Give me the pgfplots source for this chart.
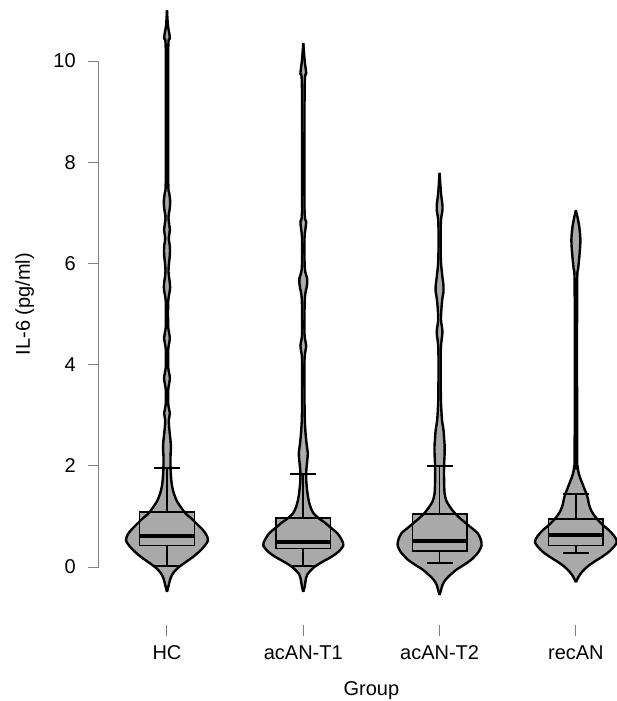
\documentclass[border=0pt]{standalone}
\usepackage{fontspec}
\setmainfont{Liberation Sans}
\usepackage{pgfplots}
\usepackage{pgfplotstable}
\pgfplotsset{compat=1.18}
\usepgfplotslibrary{statistics}
\definecolor{vgray}{HTML}{A9A9A9}

% violin half-widths (data units) against IL-6 value
\pgfplotstableread{
y w
-0.49 0
-0.40 0.009
-0.30 0.018
-0.20 0.029
-0.10 0.051
0.00 0.088
0.10 0.139
0.20 0.191
0.30 0.235
0.40 0.271
0.53 0.301
0.65 0.286
0.75 0.257
0.85 0.220
0.95 0.183
1.05 0.139
1.15 0.110
1.30 0.073
1.45 0.051
1.60 0.037
1.80 0.029
2.00 0.026
2.20 0.026
2.35 0.029
2.50 0.026
2.70 0.018
2.90 0.013
3.04 0.021
3.20 0.010
3.50 0.009
3.73 0.021
3.95 0.009
4.30 0.009
4.53 0.021
4.75 0.009
5.25 0.009
5.53 0.023
5.85 0.011
6.17 0.021
6.33 0.021
6.50 0.013
6.66 0.021
6.90 0.011
7.10 0.021
7.25 0.023
7.40 0.016
7.70 0.009
10.20 0.009
10.45 0.021
10.70 0.007
11.00 0
}\hc

\pgfplotstableread{
y w
-0.49 0
-0.40 0.009
-0.30 0.015
-0.15 0.029
0.00 0.081
0.10 0.139
0.20 0.205
0.30 0.257
0.43 0.294
0.55 0.279
0.67 0.249
0.77 0.205
0.87 0.161
0.97 0.110
1.07 0.073
1.20 0.051
1.35 0.037
1.50 0.029
1.70 0.022
1.90 0.022
2.10 0.029
2.25 0.033
2.40 0.026
2.60 0.018
2.90 0.011
3.30 0.009
4.10 0.009
4.38 0.021
4.60 0.009
5.30 0.011
5.55 0.026
5.70 0.029
5.90 0.011
6.50 0.009
6.82 0.021
7.10 0.009
9.50 0.010
9.75 0.021
10.00 0.010
10.35 0
}\tone

\pgfplotstableread{
y w
-0.55 0
-0.45 0.011
-0.35 0.022
-0.25 0.044
-0.15 0.081
-0.05 0.125
0.05 0.183
0.15 0.235
0.30 0.286
0.43 0.308
0.55 0.301
0.67 0.279
0.77 0.235
0.87 0.191
0.97 0.147
1.07 0.110
1.17 0.081
1.30 0.051
1.45 0.037
1.70 0.033
2.00 0.033
2.25 0.037
2.40 0.037
2.55 0.033
2.70 0.029
2.90 0.018
3.10 0.013
3.40 0.009
4.30 0.009
4.64 0.021
4.90 0.010
5.25 0.018
5.45 0.029
5.55 0.029
5.80 0.018
6.10 0.009
6.80 0.009
7.05 0.021
7.15 0.021
7.40 0.010
7.79 0
}\ttwo

\pgfplotstableread{
y w
-0.30 0
-0.20 0.018
-0.10 0.044
0.00 0.081
0.10 0.132
0.20 0.191
0.30 0.242
0.40 0.279
0.50 0.301
0.62 0.279
0.73 0.242
0.83 0.198
0.93 0.161
1.03 0.132
1.13 0.110
1.25 0.095
1.35 0.088
1.45 0.077
1.55 0.062
1.65 0.048
1.75 0.033
1.86 0.020
2.00 0.012
2.20 0.009
5.50 0.009
5.90 0.017
6.15 0.026
6.45 0.033
6.70 0.026
6.90 0.013
7.05 0
}\rec

\begin{document}
\begin{tikzpicture}
\begin{axis}[
    x=136.3pt, y=50.6pt,
    xmin=0.5, xmax=4.5, ymin=-1.146, ymax=11.54,
    clip=false,
    axis x line*=bottom, axis y line*=left,
    x axis line style={draw=none}, y axis line style={draw=none},
    font=\fontsize{20}{24}\selectfont,
    /pgf/number format/assume math mode=true,
    xtick={1,2,3,4},
    xticklabels={HC,acAN-T1,acAN-T2,recAN},
    ytick={0,2,4,6,8,10},
    tick align=outside,
    major tick length=11pt,
    tick style={black!50, line width=1pt},
    xticklabel style={anchor=base, yshift=-23.5pt},
    yticklabel style={anchor=east, inner sep=0pt, xshift=-12pt},
    xlabel={Group}, ylabel={IL-6 (pg/ml)},
    xlabel style={at={(axis description cs:0.5,-0.1106)}, anchor=base},
    ylabel style={at={(axis description cs:-0.1264,0.5)}, anchor=base},
    vfill/.style={fill=vgray, draw=vgray, line width=0.4pt, mark=none, smooth},
    vedge/.style={draw=black, line width=2.4pt, mark=none, smooth, line join=round},
    boxplot/draw direction=y,
    boxplot/box extend=0.4,
    boxplot/whisker extend=0.19,
    boxplot/every box/.style={fill=vgray, draw=black, line width=1.4pt},
    boxplot/every whisker/.style={draw=black, line width=1.8pt},
    boxplot/every median/.style={draw=black, line width=3.8pt},
]
\draw[black!50, line width=1pt] (axis cs:0.5,0) -- (axis cs:0.5,10);

% HC
\addplot[vfill] table[x expr=1+\thisrow{w}, y=y] {\hc} -- cycle;
\addplot[vfill] table[x expr=1-\thisrow{w}, y=y] {\hc} -- cycle;
\addplot[boxplot prepared={draw position=1, lower whisker=0.02, lower quartile=0.42,
    median=0.61, upper quartile=1.09, upper whisker=1.96}] coordinates {};
\addplot[vedge] table[x expr=1+\thisrow{w}, y=y] {\hc};
\addplot[vedge] table[x expr=1-\thisrow{w}, y=y] {\hc};

% acAN-T1
\addplot[vfill] table[x expr=2+\thisrow{w}, y=y] {\tone} -- cycle;
\addplot[vfill] table[x expr=2-\thisrow{w}, y=y] {\tone} -- cycle;
\addplot[boxplot prepared={draw position=2, lower whisker=0.02, lower quartile=0.37,
    median=0.50, upper quartile=0.97, upper whisker=1.84}] coordinates {};
\addplot[vedge] table[x expr=2+\thisrow{w}, y=y] {\tone};
\addplot[vedge] table[x expr=2-\thisrow{w}, y=y] {\tone};

% acAN-T2
\addplot[vfill] table[x expr=3+\thisrow{w}, y=y] {\ttwo} -- cycle;
\addplot[vfill] table[x expr=3-\thisrow{w}, y=y] {\ttwo} -- cycle;
\addplot[boxplot prepared={draw position=3, lower whisker=0.08, lower quartile=0.32,
    median=0.51, upper quartile=1.05, upper whisker=2.00}] coordinates {};
\addplot[vedge] table[x expr=3+\thisrow{w}, y=y] {\ttwo};
\addplot[vedge] table[x expr=3-\thisrow{w}, y=y] {\ttwo};

% recAN
\addplot[vfill] table[x expr=4+\thisrow{w}, y=y] {\rec} -- cycle;
\addplot[vfill] table[x expr=4-\thisrow{w}, y=y] {\rec} -- cycle;
\addplot[boxplot prepared={draw position=4, lower whisker=0.28, lower quartile=0.42,
    median=0.63, upper quartile=0.95, upper whisker=1.44}] coordinates {};
\addplot[vedge] table[x expr=4+\thisrow{w}, y=y] {\rec};
\addplot[vedge] table[x expr=4-\thisrow{w}, y=y] {\rec};

\coordinate (bbll) at (axis cs:-0.2252,-2.648);
\coordinate (bbur) at (axis cs:4.3015,11.206);
\end{axis}
\pgfresetboundingbox
\path (bbll) rectangle (bbur);
\end{tikzpicture}
\end{document}
